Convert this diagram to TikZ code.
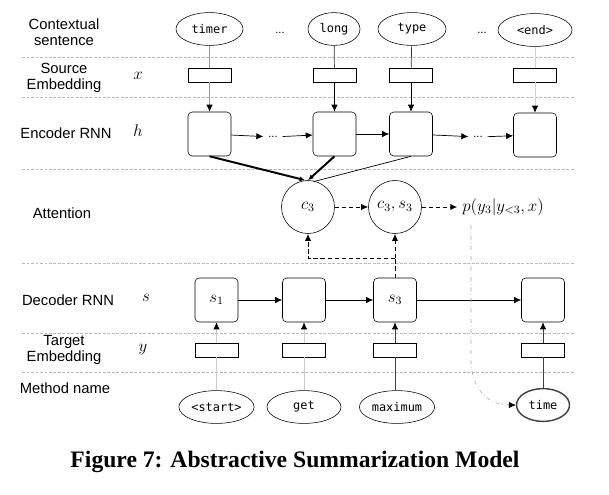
\documentclass[tikz,border=0pt]{standalone}
\usepackage{fontspec}
\setmainfont{Liberation Serif}
\setsansfont{Liberation Sans}
\setmonofont{DejaVu Sans Mono}
\usetikzlibrary{positioning, arrows.meta, shapes.geometric}

\begin{document}
\begin{tikzpicture}[
  x=0.025cm, y=-0.025cm,
  >={Latex[length=5pt,width=4.5pt]},
  rowlabel/.style={font=\sffamily\fontsize{10.5}{11.5}\selectfont, align=center},
  sym/.style={font=\fontsize{12.5}{14}\selectfont},
  word/.style={draw, ellipse, minimum height=0.82cm, inner sep=1pt,
    font=\ttfamily\fontsize{8.5}{10}\selectfont},
  embed/.style={draw, minimum width=1.075cm, minimum height=0.35cm,
    inner sep=0pt},
  cell/.style={draw, rounded corners=3pt, minimum width=1.075cm,
    minimum height=1.1cm, inner sep=0pt, font=\fontsize{12}{13}\selectfont},
  attn/.style={draw, circle, minimum size=1.325cm, inner sep=0pt,
    font=\fontsize{12}{13}\selectfont},
  dots/.style={font=\sffamily\fontsize{8}{9}\selectfont},
  sep/.style={gray!55, dash pattern=on 2pt off 1.2pt, line width=0.4pt},
  link/.style={line width=0.5pt},
  arrow/.style={->, line width=0.5pt},
  garrow/.style={-{Latex[length=5pt,width=4.5pt,color=black]}, line width=0.5pt},
  darrow/.style={->, densely dashed, line width=0.7pt},
]
\useasboundingbox (0,0) rectangle (609,494);

% ===== ROW SEPARATORS =====
\foreach \yy in {57, 97, 169, 263, 333, 372}
  \draw[sep] (22,\yy) -- (575,\yy);

% ===== ROW LABELS =====
\node[rowlabel] (lctx) at (64, 32) {Contextual\\sentence};
\node[rowlabel] (lsrc) at (64, 78) {Source\\Embedding};
\node[rowlabel] (lenc) at (66, 133) {Encoder RNN};
\node[rowlabel] (latt) at (62, 213) {Attention};
\node[rowlabel] (ldec) at (68, 300) {Decoder RNN};
\node[rowlabel] (ltgt) at (64, 350) {Target\\Embedding};
\node[rowlabel] (lmth) at (65, 388) {Method name};

\node[sym] (symx) at (138, 76) {$x$};
\node[sym] (symh) at (138, 131) {$h$};
\node[sym] (syms) at (146, 298) {$s$};
\node[sym] (symy) at (143, 349) {$y$};

% ===== ENCODER SIDE =====
\node[word, minimum width=1.675cm] (wtimer) at (209.5, 29) {timer};
\node[word, minimum width=1.3cm] (wlong) at (334, 29) {long};
\node[word, minimum width=1.7cm] (wtype) at (412, 29) {type};
\node[word, minimum width=1.85cm] (wend) at (535, 30) {<end>};
\node[dots] (wdots1) at (280, 33) {...};
\node[dots] (wdots2) at (482, 33) {...};

\node[embed] (x1) at (209.5, 75) {};
\node[embed] (x2) at (334.5, 75) {};
\node[embed] (x3) at (411, 75) {};
\node[embed] (x4) at (535, 75) {};

\node[cell] (h1) at (209.5, 134) {};
\node[cell] (h2) at (334.5, 134) {};
\node[cell] (h3) at (411, 134) {};
\node[cell] (h4) at (535, 135) {};
\node[dots] (hdots1) at (273, 137) {...};
\node[dots] (hdots2) at (478, 137) {...};

\draw[link, gray!80] (wtimer) -- (x1);
\draw[link, black!80] (wlong) -- (x2);
\draw[link, black!80] (wtype) -- (x3);
\draw[link, gray!35] (wend) -- (x4);
\draw[garrow, gray!80] (x1) -- (h1);
\draw[arrow] (x2) -- (h2);
\draw[arrow] (x3) -- (h3);
\draw[garrow, gray!35] (x4) -- (h4);

\draw[arrow] (h1) -- (hdots1);
\draw[arrow] (hdots1) -- (h2);
\draw[arrow] (h2) -- (h3);
\draw[arrow] (h3) -- (hdots2);
\draw[arrow] (hdots2) -- (h4);

% ===== ATTENTION =====
\node[attn] (c3) at (308, 207) {$c_3$};
\node[attn] (cs3) at (395, 207) {$c_3, s_3$};
\node[font=\fontsize{11.5}{13}\selectfont] (prob) at (503, 207)
  {$p(y_3|y_{<3}, x)$};

\draw[->, line width=1.4pt, >={Latex[length=4pt,width=3.5pt]}]
  (h1.south) -- ([xshift=-2pt]c3.north);
\draw[->, line width=1.4pt, >={Latex[length=4pt,width=3.5pt]}]
  (h2.south) -- (c3.north);
\draw[link] (h3.south) -- ([xshift=4pt, yshift=-1pt]c3.north);

\draw[darrow] (c3) -- (cs3);
\draw[darrow] (cs3) -- (prob);

% ===== DECODER SIDE =====
\node[cell] (s1) at (216.5, 300) {$s_1$};
\node[cell] (s2) at (304, 300) {};
\node[cell] (s3) at (395, 300) {$s_3$};
\node[cell] (s4) at (543, 300) {};

\node[embed] (y1) at (216.5, 350) {};
\node[embed] (y2) at (304, 350) {};
\node[embed] (y3) at (395, 350) {};
\node[embed] (y4) at (543, 350) {};

\node[word, minimum width=1.825cm] (mstart) at (216.5, 407) {<start>};
\node[word, minimum width=1.85cm] (mget) at (304, 407) {get};
\node[word, minimum width=1.85cm] (mmax) at (397, 407) {maximum};
\node[word, minimum width=1.325cm, draw=black!75, line width=1pt]
  (mtime) at (543, 405) {time};

\draw[arrow] (s1) -- (s2);
\draw[arrow] (s2) -- (s3);
\draw[arrow] (s3) -- (s4);

\draw[link, gray!40] (mstart) -- (y1);
\draw[link, gray!40] (mget) -- (y2);
\draw[link, black!75] (mmax.north -| y3) -- (y3);
\draw[link, black!75] (mtime) -- (y4);
\draw[garrow, gray!40] (y1) -- (s1);
\draw[garrow, gray!40] (y2) -- (s2);
\draw[garrow, black!75] (y3) -- (s3);
\draw[garrow, black!75] (y4) -- (s4);

% decoder state back to attention
\coordinate (junc) at (395, 258);
\draw[densely dashed, line width=0.7pt] (s3.north) -- (junc);
\draw[darrow] (junc) -- (cs3.south);
\draw[darrow] (junc) -| (c3.south);

% predicted word
\coordinate (pdrop) at (471, 225);
\draw[-{Latex[length=5pt,width=4.5pt,color=black]}, gray!70, dash dot,
  line width=0.4pt]
  (pdrop) -- (471, 365) .. controls (474, 392) and (490, 405) .. (mtime.west);

% ===== CAPTION =====
\node[font=\bfseries\fontsize{16.8}{19}\selectfont] (caption) at (295, 462)
  {Figure 7: Abstractive Summarization Model};

\end{tikzpicture}
\end{document}
